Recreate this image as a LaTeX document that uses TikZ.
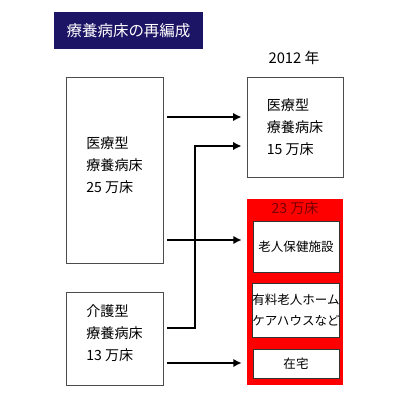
\documentclass[tikz,border=0pt]{standalone}
\usepackage{fontspec}
\setmainfont{Noto Sans CJK JP}
\usetikzlibrary{arrows.meta}
\newlength\px
\setlength\px{0.025cm}
\definecolor{navy}{RGB}{28,20,100}
\definecolor{darkred}{RGB}{120,0,0}
\tikzset{
	box/.style={draw=black!70,fill=white,line width=0.6pt,inner sep=0pt,align=left,font=\fontsize{10}{15.5}\selectfont},
	subbox/.style={draw=black!80,fill=white,line width=0.6pt,inner sep=0pt,align=center,minimum width=86\px,font=\fontsize{8.9}{15}\selectfont},
	flow/.style={-{Latex[length=6pt,width=6pt]},line width=1.3pt,shorten <=4\px,shorten >=5\px}
}

\begin{document}
\begin{tikzpicture}[x=\px,y=-\px]
			\useasboundingbox (0,0) rectangle (400,400);

			\node[fill=navy,text=white,minimum width=149\px,minimum height=37\px,font=\fontsize{11}{13}\selectfont] (title) at (128.5,30.5) {療養病床の再編成};

			\node[box,text depth=8pt,minimum width=97\px,minimum height=186\px] (iryo) at (114.5,170) {医療型\\療養病床\\25 万床};
			\node[box,text depth=8pt,minimum width=97\px,minimum height=93\px] (kaigo) at (114.5,338.5) {介護型\\療養病床\\13 万床};

			\node[font=\fontsize{10.5}{12}\selectfont] (year) at (294,58) {2012 年};
			\node[box,minimum width=96\px,minimum height=100\px] (iryonew) at (295,127) {医療型\\療養病床\\15 万床};

			\node[fill=red,inner sep=0pt,minimum width=96\px,minimum height=186\px] (red) at (295,292) {};
			\node[text=darkred,font=\fontsize{10}{12}\selectfont] (total) at (295,208) {23 万床};
			\node[subbox,minimum height=51\px] (roken) at (296,246.5) {老人保健施設};
			\node[subbox,minimum height=54\px] (yuryo) at (296,310) {有料老人ホーム\\ケアハウスなど};
			\node[subbox,minimum height=29\px] (zaitaku) at (296,363.5) {在宅};

			\coordinate (y1) at (0,117);
			\coordinate (y2) at (0,240);
			\coordinate (y3) at (0,328);
			\coordinate (y4) at (0,363);
			\coordinate (bend) at (195,146);

			\draw[flow] (iryo.east |- y1)--(iryonew.west |- y1);
			\draw[flow] (kaigo.east |- y3) -| (bend)--(iryonew.west |- bend);
			\draw[flow] (iryo.east |- y2)--(red.west |- y2);
			\draw[flow] (kaigo.east |- y4)--(red.west |- y4);
		\end{tikzpicture}
\end{document}
